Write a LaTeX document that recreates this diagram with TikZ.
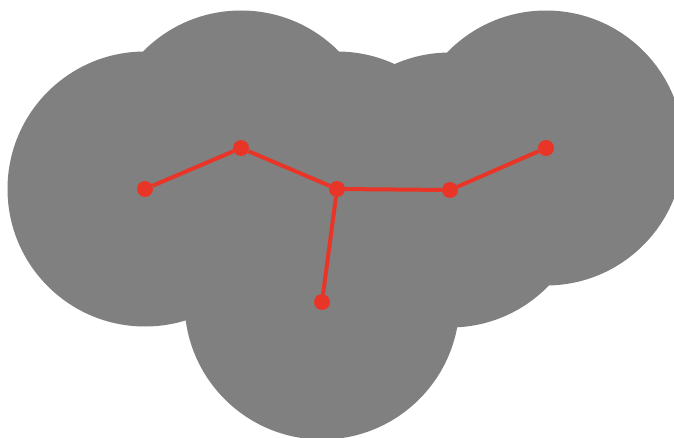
\documentclass[tikz,border=0pt]{standalone}
\usepackage{tikz}

\definecolor{blobgray}{RGB}{128,128,128}
\definecolor{treered}{RGB}{232,53,40}

\begin{document}
\begin{tikzpicture}[x=0.5mm,y=-0.5mm,
    vtx/.style={circle,fill=treered,inner sep=0pt,minimum size=8mm},
    edge/.style={treered,line width=2mm}]
  \useasboundingbox (0,0) rectangle (674,438);
  \clip (0,0) rectangle (674,438);
  % covering disks
  \foreach \x/\y in {145/189,241/148,337/189,450/190,546/148,322/302}
    \fill[blobgray] (\x,\y) circle (137.5);
  % tree vertices
  \node[vtx] (a) at (145,189) {};
  \node[vtx] (b) at (241,148) {};
  \node[vtx] (c) at (337,189) {};
  \node[vtx] (d) at (450,190) {};
  \node[vtx] (e) at (546,148) {};
  \node[vtx] (f) at (322,302) {};
  \draw[edge] (a) -- (b) -- (c) -- (d) -- (e);
  \draw[edge] (c) -- (f);
\end{tikzpicture}
\end{document}
